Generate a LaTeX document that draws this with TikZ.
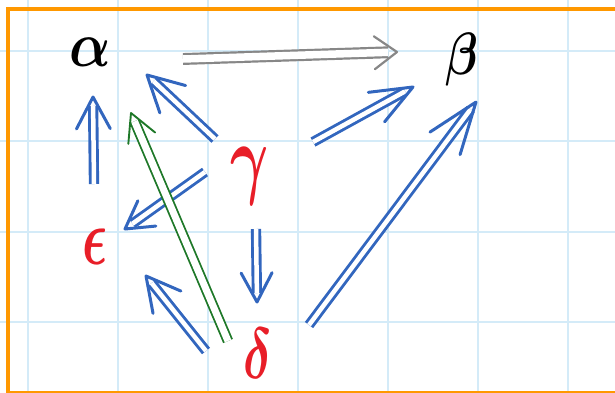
\documentclass[tikz,border=0pt]{standalone}
\usetikzlibrary{calc}
\definecolor{penblue}{RGB}{50,102,190}
\definecolor{penred}{RGB}{232,30,40}
\definecolor{pengreen}{RGB}{30,120,40}
\definecolor{pengray}{RGB}{135,135,135}
\definecolor{frameorange}{RGB}{255,152,0}
\definecolor{gridblue}{RGB}{212,235,248}
% a large handwritten-size letter: horizontal and vertical factors over \Huge
\newcommand{\glyph}[3]{\scalebox{#1}[#2]{\Huge\boldmath$#3$}}
% double-stroke arrow: shaft style, head style, start, tip, barb length, barb angle
\newcommand{\twoline}[6]{%
  \draw[#1] (#3) -- (#4);
  \draw[#2] ($(#4)!#5!#6:(#3)$) -- (#4) -- ($(#4)!#5!-#6:(#3)$);}
\tikzset{
  gridline/.style={draw=gridblue, line width=1.5pt},
  frameline/.style={draw=frameorange, line width=4pt},
  letter/.style={inner sep=0pt, outer sep=0pt},
  shaft/.style={double=white, line cap=butt, shorten >=9pt},
  head/.style={line cap=round, line join=round},
  blueshaft/.style={shaft, draw=penblue, line width=2.9pt, double distance=4.5pt},
  bluehead/.style={head, draw=penblue, line width=3pt},
  greenshaft/.style={shaft, draw=pengreen, line width=1.8pt, double distance=7pt},
  greenhead/.style={head, draw=pengreen, line width=1.9pt},
  grayshaft/.style={shaft, draw=pengray, line width=2.2pt, double distance=7.5pt},
  grayhead/.style={head, draw=pengray, line width=2.2pt},
}
\begin{document}
\begin{tikzpicture}[x=1pt,y=-1pt]
\useasboundingbox (0,0) rectangle (615,392);
\clip (0,0) rectangle (615,392);
% squared paper
\foreach \gx in {28,118,...,568} \draw[gridline] (\gx,0) -- (\gx,392);
\foreach \gy in {51,141,232,322} \draw[gridline] (0,\gy) -- (615,\gy);
% frame
\draw[frameline] (630,8.5) -- (8,8.5) -- (8,393) -- (630,393);
% objects
\node[letter, text=black] (a) at (90,52) {\glyph{2.19}{2.57}{\alpha}};
\node[letter, text=black] (b) at (462,60) {\glyph{1.9}{2.4}{\beta}};
\node[letter, text=penred] (g) at (250,176) {\glyph{2.35}{3.62}{\gamma}};
\node[letter, text=penred] (e) at (95,247) {\glyph{2.09}{3.22}{\epsilon}};
\node[letter, text=penred] (d) at (258,354) {\glyph{2.03}{2.89}{\delta}};
% arrow ends, placed relative to the objects
\coordinate (ab-s) at ([shift={(93,7)}]a.center);
\coordinate (ab-t) at ([shift={(-65,-8)}]b.center);
\coordinate (ea-s) at ([shift={(-1,-63)}]e.center);
\coordinate (ea-t) at ([shift={(3,45)}]a.center);
\coordinate (ga-s) at ([shift={(-35,-37)}]g.center);
\coordinate (ga-t) at ([shift={(57,23)}]a.center);
\coordinate (ge-s) at ([shift={(-45,-4)}]g.center);
\coordinate (ge-t) at ([shift={(30,-18)}]e.center);
\coordinate (gd-s) at ([shift={(6,53)}]g.center);
\coordinate (gd-t) at ([shift={(-1,-52)}]d.center);
\coordinate (de-s) at ([shift={(-52,-3)}]d.center);
\coordinate (de-t) at ([shift={(51,29)}]e.center);
\coordinate (da-s) at ([shift={(-30,-13)}]d.center);
\coordinate (da-t) at ([shift={(41,61)}]a.center);
\coordinate (gb-s) at ([shift={(63,-34)}]g.center);
\coordinate (gb-t) at ([shift={(-49,27)}]b.center);
\coordinate (db-s) at ([shift={(51,-29)}]d.center);
\coordinate (db-t) at ([shift={(14,42)}]b.center);
% double arrows
\twoline{grayshaft}{grayhead}{ab-s}{ab-t}{28pt}{36}
\twoline{blueshaft}{bluehead}{ea-s}{ea-t}{36pt}{28}
\twoline{blueshaft}{bluehead}{ga-s}{ga-t}{40pt}{28}
\twoline{blueshaft}{bluehead}{ge-s}{ge-t}{31pt}{30}
\twoline{blueshaft}{bluehead}{gd-s}{gd-t}{33pt}{28}
\twoline{blueshaft}{bluehead}{de-s}{de-t}{38pt}{28}
\twoline{greenshaft}{greenhead}{da-s}{da-t}{31pt}{28}
\twoline{blueshaft}{bluehead}{gb-s}{gb-t}{45pt}{22}
\twoline{blueshaft}{bluehead}{db-s}{db-t}{55pt}{20}
\end{tikzpicture}
\end{document}
